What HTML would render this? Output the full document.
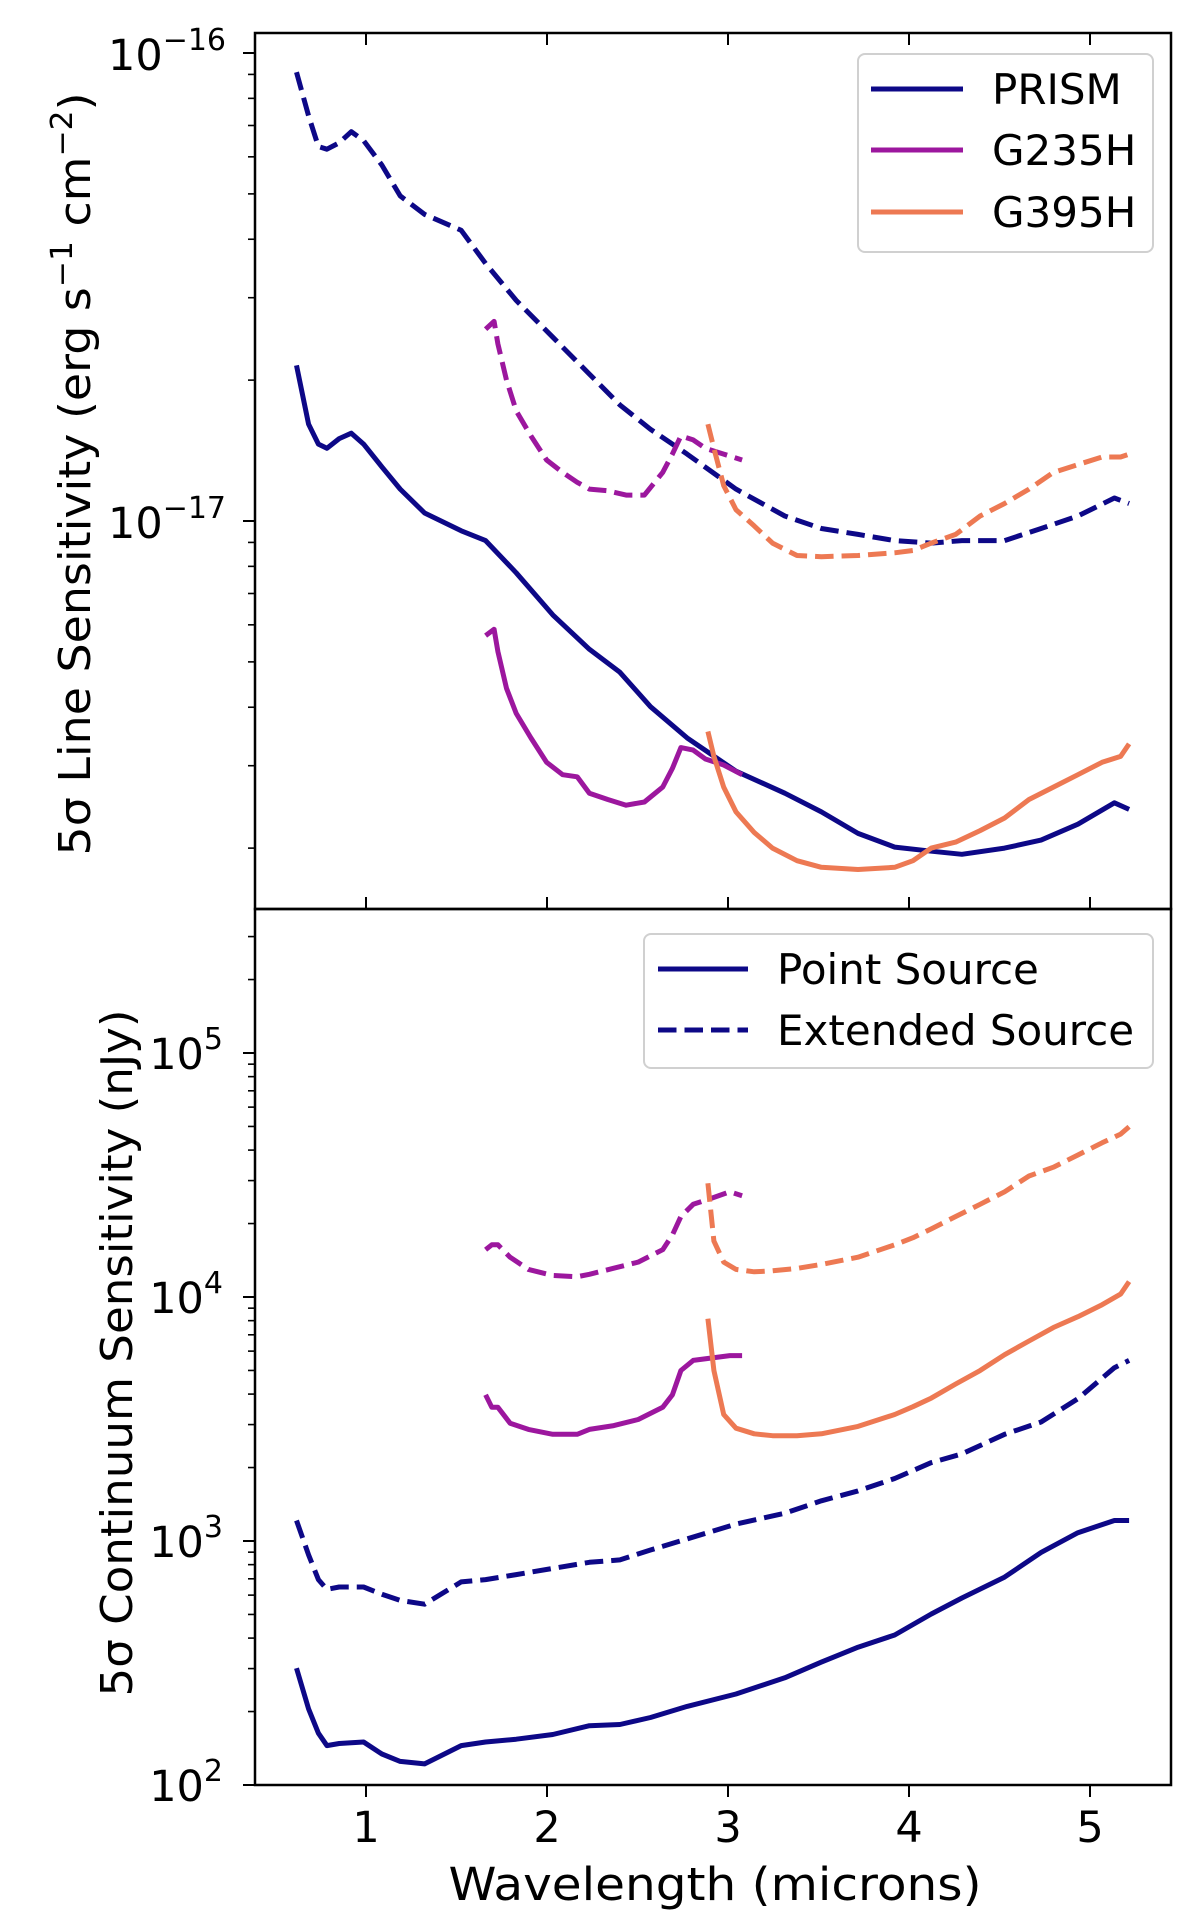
<!DOCTYPE html>
<html>
<head>
<meta charset="utf-8">
<style>
html,body{margin:0;padding:0;background:#fff;}
svg{display:block;}
text{font-family:"DejaVu Sans","Liberation Sans",sans-serif;fill:#000;}
</style>
</head>
<body>
<svg id="chart" width="1200" height="1922" viewBox="0 0 1200 1922" xmlns="http://www.w3.org/2000/svg">
  <rect x="0" y="0" width="1200" height="1922" fill="#fff"/>
  <g id="top-marks"></g>
  <g id="bot-marks"></g>
  <g id="axes"></g>

  <text transform="translate(90,474) rotate(-90)" text-anchor="middle" font-size="44" textLength="763" lengthAdjust="spacingAndGlyphs">5σ Line Sensitivity (erg s<tspan font-size="30" dy="-18">−1</tspan><tspan dy="18"> cm</tspan><tspan font-size="30" dy="-18">−2</tspan><tspan dy="18">)</tspan></text>
  <text transform="translate(132,1353) rotate(-90)" text-anchor="middle" font-size="44" textLength="687" lengthAdjust="spacingAndGlyphs">5σ Continuum Sensitivity (nJy)</text>
  <text x="715" y="1900" text-anchor="middle" font-size="45" textLength="533" lengthAdjust="spacingAndGlyphs">Wavelength (microns)</text>

  <g>
    <rect x="858" y="54" width="295" height="198" rx="7" fill="#fff" fill-opacity="0.8" stroke="#d0d0d0" stroke-width="2"/>
    <line x1="871" y1="89" x2="963" y2="89" stroke="#0d0887" stroke-width="5"/>
    <text x="992" y="104" font-size="42">PRISM</text>
    <line x1="871" y1="150" x2="963" y2="150" stroke="#9c179e" stroke-width="5"/>
    <text x="992" y="165" font-size="42">G235H</text>
    <line x1="871" y1="212" x2="963" y2="212" stroke="#ed7953" stroke-width="5"/>
    <text x="992" y="227" font-size="42">G395H</text>
  </g>
  <g>
    <rect x="644" y="934" width="509" height="134" rx="7" fill="#fff" fill-opacity="0.8" stroke="#d0d0d0" stroke-width="2"/>
    <line x1="658" y1="969" x2="748" y2="969" stroke="#0d0887" stroke-width="5"/>
    <text x="777" y="984" font-size="42">Point Source</text>
    <line x1="658" y1="1030" x2="748" y2="1030" stroke="#0d0887" stroke-width="5" stroke-dasharray="18.5,8"/>
    <text x="777" y="1045" font-size="42">Extended Source</text>
  </g>
</svg>
<script>
// ---------- data ----------
const prismW = [0.616,0.683,0.737,0.784,0.852,0.919,0.987,1.088,1.189,1.324,1.526,1.661,1.83,2.032,2.234,2.403,2.572,2.774,3.044,3.314,3.516,3.718,3.921,4.123,4.292,4.528,4.73,4.933,5.135,5.216];
const prismLinePt = [2.15e-17,1.61e-17,1.46e-17,1.43e-17,1.50e-17,1.54e-17,1.46e-17,1.305e-17,1.17e-17,1.04e-17,9.53e-18,9.08e-18,7.75e-18,6.3e-18,5.32e-18,4.75e-18,4.01e-18,3.44e-18,2.92e-18,2.62e-18,2.39e-18,2.15e-18,2.01e-18,1.97e-18,1.94e-18,2.0e-18,2.08e-18,2.25e-18,2.5e-18,2.42e-18];
const prismLineExt = [9.1e-17,7.34e-17,6.31e-17,6.23e-17,6.43e-17,6.79e-17,6.5e-17,5.76e-17,4.95e-17,4.52e-17,4.18e-17,3.55e-17,2.96e-17,2.47e-17,2.06e-17,1.77e-17,1.57e-17,1.39e-17,1.17e-17,1.025e-17,9.64e-18,9.36e-18,9.08e-18,8.97e-18,9.08e-18,9.08e-18,9.64e-18,1.025e-17,1.12e-17,1.09e-17];
const prismContPt = [301,205,163,145,148,149,150,134,125,122,145,150,154,161,175,177,189,210,236,275,319,367,412,502,584,711,898,1081,1214,1214];
const prismContExt = [1214,877,695,634,648,648,648,605,571,551,680,695,728,772,818,837,919,1020,1173,1300,1462,1604,1803,2096,2274,2737,3075,3830,5130,5495];

const g235W = [1.661,1.708,1.729,1.776,1.83,1.911,1.998,2.086,2.167,2.234,2.336,2.437,2.538,2.639,2.693,2.74,2.808,2.875,2.976,3.078];
const g235LinePt = [5.69e-18,5.87e-18,5.26e-18,4.39e-18,3.88e-18,3.44e-18,3.05e-18,2.87e-18,2.84e-18,2.62e-18,2.54e-18,2.47e-18,2.51e-18,2.7e-18,2.96e-18,3.28e-18,3.24e-18,3.1e-18,3.01e-18,2.87e-18];
const g235LineExt = [2.57e-17,2.67e-17,2.39e-17,2.0e-17,1.72e-17,1.52e-17,1.35e-17,1.27e-17,1.21e-17,1.17e-17,1.16e-17,1.136e-17,1.136e-17,1.27e-17,1.39e-17,1.52e-17,1.49e-17,1.43e-17,1.39e-17,1.35e-17];
const g235ContW = [1.661,1.695,1.729,1.796,1.897,2.032,2.167,2.234,2.369,2.504,2.639,2.693,2.74,2.808,2.909,3.01,3.078];
const g235ContPt = [3972,3532,3532,3040,2866,2737,2737,2866,2972,3148,3532,3972,5000,5495,5623,5754,5754];
const g235ContExt = [15630,16370,16370,14560,12970,12250,12110,12390,13120,13900,15630,17950,21370,23990,25410,26980,26020];

const g395W = [2.889,2.922,2.976,3.044,3.145,3.246,3.381,3.516,3.718,3.921,4.022,4.123,4.258,4.393,4.528,4.663,4.798,4.933,5.067,5.169,5.216];
const g395LinePt = [3.55e-18,3.14e-18,2.7e-18,2.39e-18,2.16e-18,2.0e-18,1.88e-18,1.82e-18,1.8e-18,1.82e-18,1.88e-18,2.0e-18,2.06e-18,2.18e-18,2.32e-18,2.54e-18,2.7e-18,2.87e-18,3.05e-18,3.14e-18,3.34e-18];
const g395LineExt = [1.61e-17,1.43e-17,1.19e-17,1.057e-17,9.76e-18,8.97e-18,8.44e-18,8.39e-18,8.44e-18,8.55e-18,8.65e-18,8.97e-18,9.36e-18,1.025e-17,1.09e-17,1.17e-17,1.27e-17,1.32e-17,1.37e-17,1.37e-17,1.39e-17];
const g395ContPt = [8147,5000,3300,2900,2750,2700,2700,2750,2950,3300,3550,3850,4400,5000,5800,6600,7500,8300,9300,10280,11560];
const g395ContExt = [29240,16940,13900,12970,12680,12800,13100,13600,14560,16370,17500,19010,21370,23990,26980,31330,34030,38200,42870,46530,49900];

const xTicks = [1,2,3,4,5];
const topYTicks = [-16,-17];
const botYTicks = [2,3,4,5];

// ---------- axes geometry ----------
const AXL = 255, AXR = 1171, AXT = 33, AXM = 909, AXB = 1785;
function X(w){ return 366 + 181*(w-1); }
function YT(v){ return 53 + (-16 - Math.log10(v))*468; }
function YB(v){ return 1785 - (Math.log10(v)-2)*244; }

const NS = 'http://www.w3.org/2000/svg';
const COL = {prism:'#0d0887', g235:'#9c179e', g395:'#ed7953'};

function mk(tag, parent){ const e = document.createElementNS(NS, tag); parent.appendChild(e); return e; }

function drawLine(parent, ws, vs, yf, color, dashed, name){
  const p = mk('polyline', parent);
  p.setAttribute('points', ws.map((w,i)=> X(w).toFixed(1)+','+yf(vs[i]).toFixed(1)).join(' '));
  p.setAttribute('fill','none');
  p.setAttribute('stroke', color);
  p.setAttribute('stroke-width','5');
  p.setAttribute('stroke-linejoin','round');
  if(dashed) p.setAttribute('stroke-dasharray','18.5,8');
  
  
}

const topG = document.getElementById('top-marks');
const botG = document.getElementById('bot-marks');

drawLine(topG, prismW, prismLineExt, YT, COL.prism, true, 'prism-line-extended');
drawLine(topG, prismW, prismLinePt, YT, COL.prism, false, 'prism-line-point');
drawLine(topG, g235W, g235LineExt, YT, COL.g235, true, 'g235h-line-extended');
drawLine(topG, g235W, g235LinePt, YT, COL.g235, false, 'g235h-line-point');
drawLine(topG, g395W, g395LineExt, YT, COL.g395, true, 'g395h-line-extended');
drawLine(topG, g395W, g395LinePt, YT, COL.g395, false, 'g395h-line-point');

drawLine(botG, prismW, prismContExt, YB, COL.prism, true, 'prism-continuum-extended');
drawLine(botG, prismW, prismContPt, YB, COL.prism, false, 'prism-continuum-point');
drawLine(botG, g235ContW, g235ContExt, YB, COL.g235, true, 'g235h-continuum-extended');
drawLine(botG, g235ContW, g235ContPt, YB, COL.g235, false, 'g235h-continuum-point');
drawLine(botG, g395W, g395ContExt, YB, COL.g395, true, 'g395h-continuum-extended');
drawLine(botG, g395W, g395ContPt, YB, COL.g395, false, 'g395h-continuum-point');

// ---------- axes ----------
const ax = document.getElementById('axes');
function seg(x1,y1,x2,y2,w){
  const l = mk('line', ax);
  l.setAttribute('x1',x1); l.setAttribute('y1',y1); l.setAttribute('x2',x2); l.setAttribute('y2',y2);
  l.setAttribute('stroke','#000'); l.setAttribute('stroke-width', w||2);
  return l;
}
const f1 = mk('rect', ax);
f1.setAttribute('x',AXL); f1.setAttribute('y',AXT); f1.setAttribute('width',AXR-AXL); f1.setAttribute('height',AXM-AXT);
f1.setAttribute('fill','none'); f1.setAttribute('stroke','#000'); f1.setAttribute('stroke-width','2.5');


const f2 = mk('rect', ax);
f2.setAttribute('x',AXL); f2.setAttribute('y',AXM); f2.setAttribute('width',AXR-AXL); f2.setAttribute('height',AXB-AXM);
f2.setAttribute('fill','none'); f2.setAttribute('stroke','#000'); f2.setAttribute('stroke-width','2.5');



xTicks.forEach(w=>{
  const x = X(w);
  seg(x, AXT, x, AXT+12);
  seg(x, AXM, x, AXM-12);
  seg(x, AXB, x, AXB+12);
  const t = mk('text', ax);
  t.setAttribute('x', x); t.setAttribute('y', 1842);
  t.setAttribute('text-anchor','middle'); t.setAttribute('font-size','43');
  t.textContent = String(w);
  
  
});

topYTicks.forEach(e=>{
  const y = YT(Math.pow(10,e));
  seg(AXL-12, y, AXL, y);
  const t = mk('text', ax);
  t.setAttribute('x', 226); t.setAttribute('y', y+17);
  t.setAttribute('text-anchor','end'); t.setAttribute('font-size','43');
  t.innerHTML = '10<tspan font-size="30" dy="-20">−'+Math.abs(e)+'</tspan>';
  
  
});
for(let e=-18; e<=-17; e++){
  for(let m=2; m<=9; m++){
    const y = YT(m*Math.pow(10,e));
    if(y>AXT && y<AXM) seg(AXL-7, y, AXL, y, 1.6);
  }
}
botYTicks.forEach(e=>{
  const y = YB(Math.pow(10,e));
  seg(AXL-12, y, AXL, y);
  const t = mk('text', ax);
  t.setAttribute('x', 223); t.setAttribute('y', y+16);
  t.setAttribute('text-anchor','end'); t.setAttribute('font-size','43');
  t.innerHTML = '10<tspan font-size="30" dy="-20">'+e+'</tspan>';
  
  
});
for(let e=2; e<=5; e++){
  for(let m=2; m<=9; m++){
    const y = YB(m*Math.pow(10,e));
    if(y>AXM+1 && y<AXB) seg(AXL-7, y, AXL, y, 1.6);
  }
}
</script>
</body>
</html>
